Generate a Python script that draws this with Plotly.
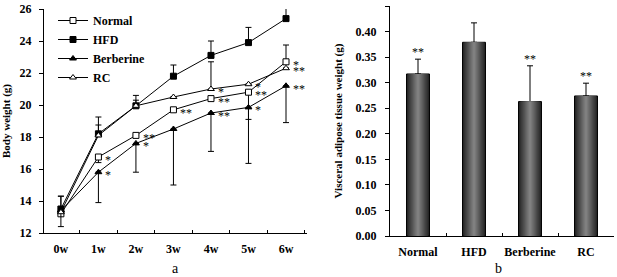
import plotly.graph_objects as go

weeks = ["0w", "1w", "2w", "3w", "4w", "5w", "6w"]
normal = [13.2, 16.75, 18.1, 19.7, 20.4, 20.8, 22.7]
hfd = [13.5, 18.2, 19.95, 21.8, 23.1, 23.9, 25.4]
berberine = [13.4, 15.8, 17.6, 18.5, 19.5, 19.85, 21.2]
rc = [13.3, 18.1, 19.95, 20.5, 21.0, 21.3, 22.3]

normal_up = [1.1, 0, 0, 0, 0, 0, 1.05]
normal_dn = [0, 0.35, 0, 0, 0, 1.7, 0]
hfd_up = [0.8, 1.05, 0.65, 0.7, 0.9, 0.95, 0.7]
berb_dn = [1.0, 1.9, 1.8, 3.5, 2.4, 3.5, 2.3]
rc_up = [0, 0.65, 0.35, 0, 1.7, 0, 0]

normal_sig = ["", "*", "**", "**", "**", "**", "*"]
berb_sig = ["", "*", "*", "", "**", "*", "**"]
rc_sig = ["", "", "", "", "*", "*", "**"]

groups = ["Normal", "HFD", "Berberine", "RC"]
vat = [0.317, 0.379, 0.263, 0.274]
vat_err = [0.029, 0.038, 0.070, 0.025]
vat_sig = ["**", "", "**", "**"]

FONT = "Liberation Serif"
fig = go.Figure()

def line_trace(name, y, up, dn, symbol, fill):
    return go.Scatter(
        x=weeks, y=y, name=name, mode="lines+markers",
        line=dict(color="black", width=1),
        marker=dict(symbol=symbol, size=6, color=fill, line=dict(color="black", width=1)),
        error_y=dict(type="data", symmetric=False, array=up, arrayminus=dn,
                     color="black", thickness=1, width=3),
        xaxis="x", yaxis="y",
    )

fig.add_trace(line_trace("Normal", normal, normal_up, normal_dn, "square", "white"))
fig.add_trace(line_trace("HFD", hfd, hfd_up, [0]*7, "square", "black"))
fig.add_trace(line_trace("Berberine", berberine, [0]*7, berb_dn, "triangle-up", "black"))
fig.add_trace(line_trace("RC", rc, rc_up, [0]*7, "triangle-up", "white"))

annotations = []
for series, sig in ((normal, normal_sig), (berberine, berb_sig), (rc, rc_sig)):
    for w, v, s in zip(weeks, series, sig):
        if s:
            annotations.append(dict(x=w, y=v, xref="x", yref="y", text=s, showarrow=False,
                                    xanchor="left", yanchor="middle", xshift=5, yshift=-3,
                                    font=dict(family=FONT, size=12, color="black")))

# bars with layered gradient
n_layers = 9
for i in range(n_layers):
    frac = i / (n_layers - 1)
    w = 0.41 * (1 - frac * 0.88)
    c = int(0x26 + (0x80 - 0x26) * frac)
    color = f"rgb({c},{c},{c})"
    if i == 0:
        kw = dict(marker_line=dict(color="black", width=1),
                  error_y=dict(type="data", symmetric=False, array=vat_err,
                               arrayminus=[0]*4, color="black", thickness=1, width=3))
    else:
        kw = dict(marker_line=dict(width=0))
    fig.add_trace(go.Bar(x=groups, y=vat, width=w, marker_color=color, showlegend=False,
                         xaxis="x2", yaxis="y2", **kw))

for g, v, e, s in zip(groups, vat, vat_err, vat_sig):
    if s:
        annotations.append(dict(x=g, y=v + e, xref="x2", yref="y2", text=s, showarrow=False,
                                xanchor="center", yanchor="bottom", yshift=-2,
                                font=dict(family=FONT, size=12, color="black")))

annotations.append(dict(x=175/617, y=1-268/277, xref="paper", yref="paper", text="a",
                        xanchor="center", yanchor="middle",
                        showarrow=False, font=dict(family=FONT, size=14, color="black")))
annotations.append(dict(x=498/617, y=1-268/277, xref="paper", yref="paper", text="b",
                        xanchor="center", yanchor="middle",
                        showarrow=False, font=dict(family=FONT, size=14, color="black")))

tickfont = dict(family=FONT, size=12, color="black", weight="bold")
axcommon = dict(showline=True, linecolor="black", linewidth=1,
                tickcolor="black", showgrid=False, zeroline=False, tickfont=tickfont)

fig.update_layout(
    width=617, height=277, margin=dict(l=0, r=0, t=0, b=0, autoexpand=False),
    paper_bgcolor="white", plot_bgcolor="white",
    barmode="overlay",
    font=dict(family=FONT, color="black"),
    xaxis=dict(domain=[44/617, 307/617], anchor="y", tickson="boundaries", ticks="inside",
               ticklen=3, tickangle=0, ticklabelstandoff=5, **axcommon),
    yaxis=dict(domain=[1-233/277, 1-9/277], anchor="x", range=[12, 26], dtick=2,
               ticks="outside", ticklen=4, ticklabelstandoff=5,
               title=dict(text="Body weight (g)", font=dict(family=FONT, size=11, weight="bold"), standoff=6),
               **axcommon),
    xaxis2=dict(domain=[390/617, 614/617], anchor="y2", tickson="boundaries", ticks="inside",
                ticklen=3, tickangle=0, ticklabelstandoff=5, **axcommon),
    yaxis2=dict(domain=[1-236/277, 1-6/277], anchor="x2", range=[0, 0.45], dtick=0.05,
                tickformat=".2f", ticks="outside", ticklen=4, ticklabelstandoff=6,
                title=dict(text="Visceral adipose tissue weight (g)",
                           font=dict(family=FONT, size=11, weight="bold"), standoff=10),
                **axcommon),
    legend=dict(x=53/617, y=1-6/277, xanchor="left", yanchor="top", bgcolor="rgba(0,0,0,0)",
                font=dict(family=FONT, size=12, color="black", weight="bold"),
                tracegroupgap=0, itemwidth=30),
    annotations=annotations,
)

fig.write_html("out.html", config={"displayModeBar": False},
               post_script="document.body.style.margin='0';")
